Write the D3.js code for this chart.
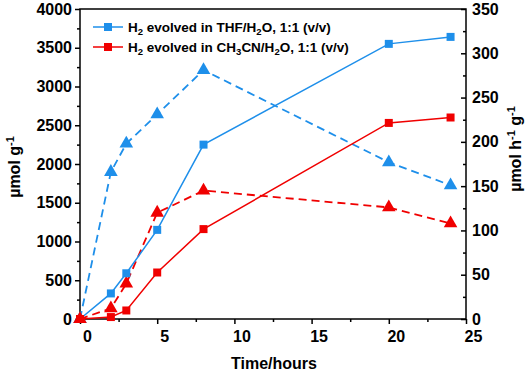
<!DOCTYPE html>
<html><head><meta charset="utf-8">
<script src="https://cdn.jsdelivr.net/npm/d3@7"></script>
<style>body{margin:0;background:#fff}svg{display:block;font-family:"Liberation Sans",Arial,sans-serif}</style>
</head><body><svg id="c" width="529" height="374"></svg>
<script>
const time = [0, 2, 3, 5, 8, 20, 24];
const thfTotal = [0, 330, 590, 1150, 2250, 3550, 3640];      // µmol g-1 (left)
const mecnTotal = [0, 25, 110, 600, 1160, 2530, 2600];       // µmol g-1 (left)
const thfRate = [0, 166, 198, 231, 281, 177, 151];            // µmol h-1 g-1 (right)
const mecnRate = [0, 12, 40, 120, 145, 126, 108];             // µmol h-1 g-1 (right)
const xTicks = [0, 5, 10, 15, 20, 25];
const yLeftTicks = [0, 500, 1000, 1500, 2000, 2500, 3000, 3500, 4000];
const yRightTicks = [0, 50, 100, 150, 200, 250, 300, 350];

const BLUE = "#1E8FEA", RED = "#F00000";
const svg = d3.select("#c");
const L = 80, R = 466, T = 9, B = 319;
const x = d3.scaleLinear().domain([0, 25]).range([L, R]);
const yl = d3.scaleLinear().domain([0, 4000]).range([B, T]);
const yr = d3.scaleLinear().domain([0, 350]).range([B, T]);

// frame
svg.append("rect").attr("x", L).attr("y", T).attr("width", R - L).attr("height", B - T)
  .attr("fill", "none").attr("stroke", "#000").attr("stroke-width", 1.5);

const tickFont = g => g.selectAll("text").attr("font-size", 16).attr("font-weight", "bold").attr("fill", "#000");
// bottom axis
const gx = svg.append("g").attr("transform", `translate(0,${B})`)
  .call(d3.axisBottom(x).tickValues(xTicks).tickSize(5).tickPadding(7).tickFormat(d3.format("d")));
gx.select(".domain").remove();
gx.selectAll("line").attr("stroke-width", 1.5);
gx.selectAll("text").attr("dx", 7);
tickFont(gx);
svg.append("g").attr("transform", `translate(0,${B})`)
  .call(d3.axisBottom(x).tickValues(d3.range(2.5, 25, 5)).tickSize(3).tickFormat(""))
  .call(g => { g.select(".domain").remove(); g.selectAll("line").attr("stroke-width", 1.5); });

// left axis
const gl = svg.append("g").attr("transform", `translate(${L},0)`)
  .call(d3.axisLeft(yl).tickValues(yLeftTicks).tickSize(5).tickPadding(3).tickFormat(d3.format("d")));
gl.select(".domain").remove();
gl.selectAll("line").attr("stroke-width", 1.5);
tickFont(gl);
svg.append("g").attr("transform", `translate(${L},0)`)
  .call(d3.axisLeft(yl).tickValues(d3.range(250, 4000, 500)).tickSize(3).tickFormat(""))
  .call(g => { g.select(".domain").remove(); g.selectAll("line").attr("stroke-width", 1.5); });

// right axis (ticks inward)
const gr = svg.append("g").attr("transform", `translate(${R},0)`)
  .call(d3.axisRight(yr).tickValues(yRightTicks).tickSize(-5).tickPadding(0).tickFormat(d3.format("d")));
gr.select(".domain").remove();
gr.selectAll("line").attr("stroke-width", 1.5);
gr.selectAll("text").attr("x", 6);
tickFont(gr);
svg.append("g").attr("transform", `translate(${R},0)`)
  .call(d3.axisRight(yr).tickValues(d3.range(25, 350, 50)).tickSize(-3).tickFormat(""))
  .call(g => { g.select(".domain").remove(); g.selectAll("line").attr("stroke-width", 1.5); });

// series
function series(vals, y, color, dashed, sym) {
  const pts = time.map((t, i) => [x(t), y(vals[i])]);
  svg.append("path").attr("d", d3.line()(pts)).attr("fill", "none").attr("stroke", color)
    .attr("stroke-width", dashed ? 1.8 : 1.5).attr("stroke-dasharray", dashed ? "8,5" : null);
  svg.append("g").selectAll("path").data(pts).join("path")
    .attr("transform", d => `translate(${d[0]},${d[1]})`)
    .attr("d", d3.symbol().type(sym).size(sym === d3.symbolSquare ? 64 : 80)())
    .attr("fill", color);
}
series(thfRate, yr, BLUE, true, d3.symbolTriangle);
series(mecnRate, yr, RED, true, d3.symbolTriangle);
series(thfTotal, yl, BLUE, false, d3.symbolSquare);
series(mecnTotal, yl, RED, false, d3.symbolSquare);

// legend
const legend = [
  { color: BLUE, parts: [["H", 0], ["2", 1], [" evolved in THF/H", 0], ["2", 1], ["O, 1:1 (v/v)", 0]] },
  { color: RED, parts: [["H", 0], ["2", 1], [" evolved in CH", 0], ["3", 1], ["CN/H", 0], ["2", 1], ["O, 1:1 (v/v)", 0]] }
];
legend.forEach((item, i) => {
  const yy = 27 + i * 20;
  svg.append("line").attr("x1", 93).attr("x2", 123).attr("y1", yy).attr("y2", yy)
    .attr("stroke", item.color).attr("stroke-width", 1.5);
  svg.append("path").attr("transform", `translate(108,${yy})`)
    .attr("d", d3.symbol().type(d3.symbolSquare).size(64)()).attr("fill", item.color);
  const t = svg.append("text").attr("x", 128).attr("y", yy + 5).attr("font-size", 13.5).attr("font-weight", "bold");
  item.parts.forEach(([s, sub], k) => {
    const dy = sub ? 3 : (k === 0 ? 0 : -3);
    t.append("tspan").text(s).attr("font-size", sub ? 9.5 : 13.5).attr("dy", dy);
  });
});

// axis titles
svg.append("text").attr("x", 274).attr("y", 369).attr("text-anchor", "middle")
  .attr("font-size", 16).attr("font-weight", "bold").text("Time/hours");
const lt = svg.append("text").attr("transform", "translate(20,167) rotate(-90)").attr("text-anchor", "middle")
  .attr("font-size", 16).attr("font-weight", "bold");
lt.append("tspan").text("µmol g");
lt.append("tspan").text("-1").attr("font-size", 11).attr("dy", -6);
const rt = svg.append("text").attr("transform", "translate(521,149) rotate(-90)").attr("text-anchor", "middle")
  .attr("font-size", 16).attr("font-weight", "bold");
rt.append("tspan").text("µmol h");
rt.append("tspan").text("-1").attr("font-size", 11).attr("dy", -6);
rt.append("tspan").text(" g").attr("dy", 6);
rt.append("tspan").text("-1").attr("font-size", 11).attr("dy", -6);
</script></body></html>
